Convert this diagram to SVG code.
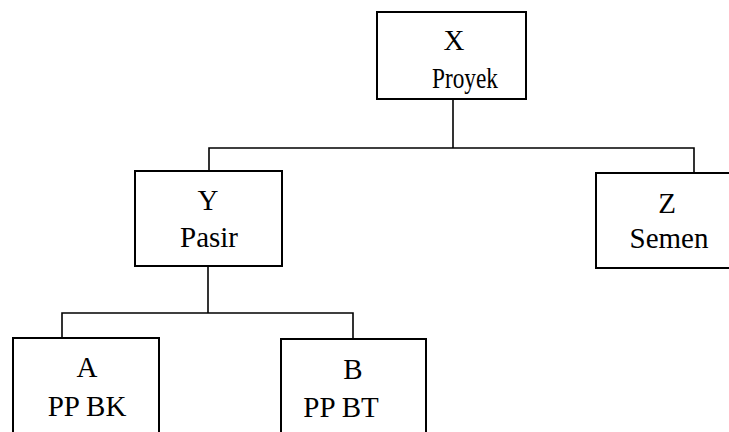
<svg xmlns="http://www.w3.org/2000/svg" width="729" height="432" viewBox="0 0 729 432">
<style>
.box{fill:#fff;stroke:#000;stroke-width:2}
.t{font-family:"Liberation Serif","Times New Roman",serif;font-size:29px;fill:#000;text-anchor:middle}
.c{fill:none;stroke:#000;stroke-width:1.6}
</style>
<rect width="729" height="432" fill="#fff"/>
<g id="connectors">
<path class="c" d="M453 99V148"/>
<path class="c" d="M209 171V148H694V173"/>
<path class="c" d="M208 266V313"/>
<path class="c" d="M62 338V313H353V339"/>
</g>
<g id="X">
<rect class="box" x="377" y="12" width="149" height="87"/>
<text class="t" x="454" y="50">X</text>
<text class="t" x="465" y="88" textLength="66" lengthAdjust="spacingAndGlyphs">Proyek</text>
</g>
<g id="Y">
<rect class="box" x="135" y="171" width="147" height="95"/>
<text class="t" x="208" y="210">Y</text>
<text class="t" x="209" y="247">Pasir</text>
</g>
<g id="Z">
<rect class="box" x="596" y="173" width="140" height="95"/>
<text class="t" x="667" y="213">Z</text>
<text class="t" x="669" y="248">Semen</text>
</g>
<g id="A">
<rect class="box" x="13" y="338" width="146" height="110"/>
<text class="t" x="87" y="377">A</text>
<text class="t" x="87" y="416">PP BK</text>
</g>
<g id="B">
<rect class="box" x="281" y="339" width="145" height="110"/>
<text class="t" x="353" y="379">B</text>
<text class="t" x="341" y="417">PP BT</text>
</g>
</svg>
